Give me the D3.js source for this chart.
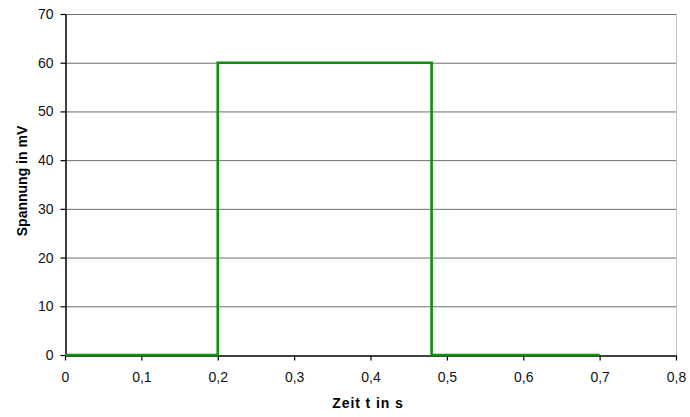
<!DOCTYPE html>
<html>
<head>
<meta charset="utf-8">
<script src="https://cdn.jsdelivr.net/npm/d3@7"></script>
<style>
  body { margin: 0; background: #fff; }
  text { font-family: "Liberation Sans", Arial, sans-serif; }
</style>
</head>
<body>
<svg id="chart" width="690" height="417"></svg>
<script>
// Rectangular voltage pulse
const timeValues = [0, 0.2, 0.2, 0.48, 0.48, 0.7];
const voltageValues = [0, 0, 60, 60, 0, 0];
const xTicks = [0, 0.1, 0.2, 0.3, 0.4, 0.5, 0.6, 0.7, 0.8];
const yTicks = [0, 10, 20, 30, 40, 50, 60, 70];
const xTitle = "Zeit t in s";
const yTitle = "Spannung in mV";

const svg = d3.select("#chart");
const plot = { left: 65, right: 676, top: 14, bottom: 355 };

const x = d3.scaleLinear().domain([0, 0.8]).range([plot.left, plot.right]);
const y = d3.scaleLinear().domain([0, 70]).range([plot.bottom, plot.top]);
const fmt = d => d3.format(".1~f")(d).replace(".", ",");

// horizontal gridlines
svg.append("g").selectAll("line").data(yTicks.filter(d => d > 0)).join("line")
  .attr("x1", plot.left).attr("x2", plot.right)
  .attr("y1", d => y(d) + 0.5).attr("y2", d => y(d) + 0.5)
  .attr("stroke", "#6e6e6e").attr("stroke-width", 1);

// right border of plot area
svg.append("line")
  .attr("x1", plot.right + 0.5).attr("x2", plot.right + 0.5)
  .attr("y1", plot.top).attr("y2", plot.bottom)
  .attr("stroke", "#c0c0c0").attr("stroke-width", 1);

// axes
const xAxis = svg.append("g").attr("transform", `translate(0,${plot.bottom + 0.5})`)
  .call(d3.axisBottom(x).tickValues(xTicks).tickFormat(fmt).tickSize(5).tickSizeOuter(0).tickPadding(12));
const yAxis = svg.append("g").attr("transform", `translate(${plot.left + 0.5},0)`)
  .call(d3.axisLeft(y).tickValues(yTicks).tickFormat(d3.format("d")).tickSize(5).tickSizeOuter(0).tickPadding(7));
[xAxis, yAxis].forEach(a => {
  a.selectAll("path, line").attr("stroke", "#000").attr("stroke-width", 1.2);
  a.selectAll("text").attr("font-size", 14).attr("fill", "#111")
    .attr("font-family", "'Liberation Sans', Arial, sans-serif");
  a.select(".domain").attr("stroke-width", 1.5);
});

// pulse line
const line = d3.line().x((d, i) => x(timeValues[i])).y(d => y(d));
svg.append("path").datum(voltageValues)
  .attr("d", line)
  .attr("fill", "none")
  .attr("stroke", "#0e8f0e")
  .attr("stroke-width", 2.6)
  .attr("stroke-linejoin", "miter");

// axis titles
svg.append("text").attr("x", 368).attr("y", 408)
  .attr("text-anchor", "middle").attr("font-size", 14).attr("font-weight", "bold")
  .attr("letter-spacing", 0.9)
  .text(xTitle);
svg.append("text")
  .attr("transform", `translate(27,181) rotate(-90)`)
  .attr("text-anchor", "middle").attr("font-size", 14).attr("font-weight", "bold")
  .text(yTitle);
</script>
</body>
</html>
